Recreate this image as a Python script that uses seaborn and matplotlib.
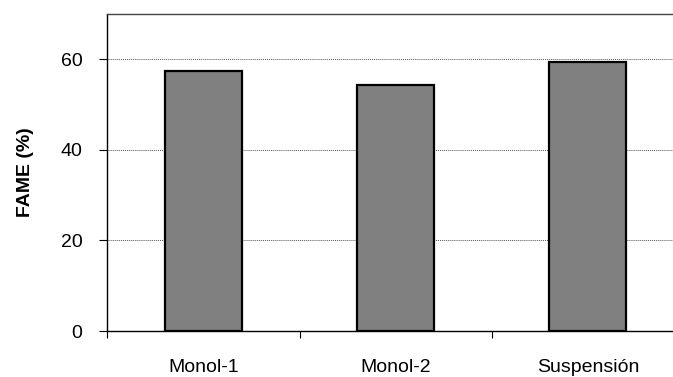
import seaborn as sns
import matplotlib.pyplot as plt
import pandas as pd

categories = ["Monol-1", "Monol-2", "Suspensión"]
fame = [57.5, 54.4, 59.5]

df = pd.DataFrame({"muestra": categories, "fame": fame})

sns.set_style("white")
plt.rcParams["font.family"] = ["Liberation Sans", "DejaVu Sans"]
plt.rcParams["text.color"] = "black"
plt.rcParams["axes.labelcolor"] = "black"
plt.rcParams["xtick.color"] = "black"
plt.rcParams["ytick.color"] = "black"

fig = plt.figure(figsize=(6.73, 3.77), dpi=100)
ax = fig.add_axes([107.5 / 673, 1 - 331 / 377, 576.5 / 673, 317 / 377])

sns.barplot(x="muestra", y="fame", data=df, color="#808080", width=0.40,
            edgecolor="black", linewidth=1.6, saturation=1, ax=ax, zorder=3)

ax.set_xlim(-0.5, 2.5)
ax.set_ylim(0, 70)
ax.set_yticks([0, 20, 40, 60])
# category boundaries get the ticks, names sit in between
ax.set_xticks([-0.5, 0.5, 1.5], minor=False)
ax.set_xticks([0, 1, 2], minor=True)
ax.set_xticklabels([], minor=False)
ax.set_xticklabels(categories, minor=True, fontsize=14)
ax.tick_params(axis="x", which="minor", length=0, pad=20)
ax.tick_params(axis="x", which="major", direction="out", length=5, width=0.8, bottom=True)
ax.tick_params(axis="y", direction="out", length=6, width=0.8, left=True, labelsize=14, pad=12)

ax.yaxis.grid(True, color="#555555", linestyle=(0, (1, 1)), linewidth=0.7, zorder=0)
ax.set_axisbelow(True)

for s in ["left", "bottom", "top"]:
    ax.spines[s].set_visible(True)
    ax.spines[s].set_linewidth(1.0)
ax.spines["left"].set_color("black")
ax.spines["bottom"].set_color("black")
ax.spines["top"].set_color("#444444")
ax.spines["right"].set_visible(False)

ax.set_xlabel("")
ax.set_ylabel("FAME (%)", fontsize=14, fontweight="bold", labelpad=19)

fig.savefig("out.png", dpi=100)
